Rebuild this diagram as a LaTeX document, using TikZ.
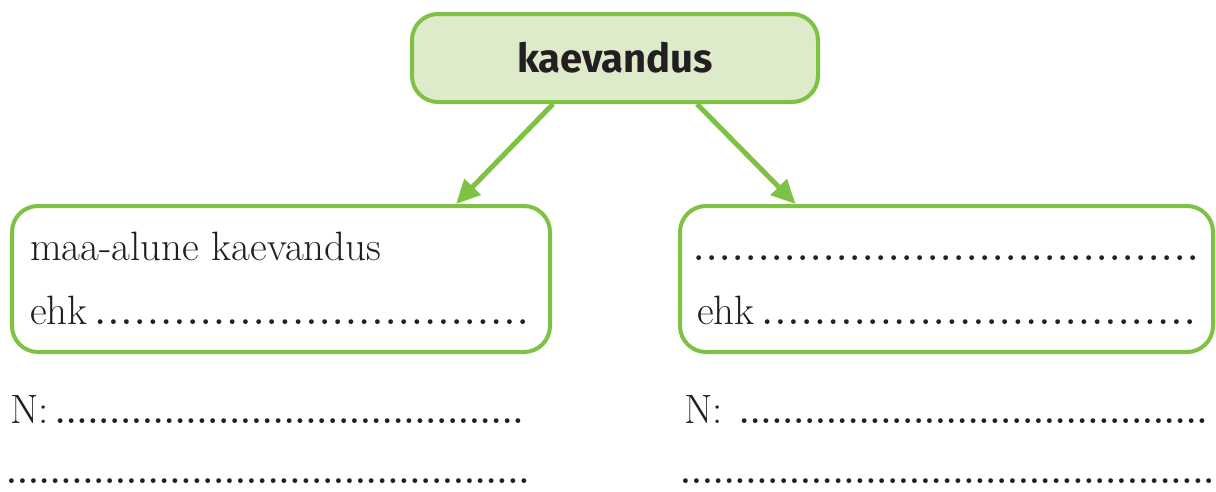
\documentclass[tikz,border=0pt]{standalone}
\usepackage{fontspec}
\usepackage{xcolor}
\newfontfamily\headfont{Fira Sans}
\usetikzlibrary{arrows.meta}
\definecolor{leafgreen}{HTML}{7DC242}
\definecolor{palegreen}{HTML}{DDEBCB}
\definecolor{inkblack}{HTML}{231F20}
\newcommand{\dotrow}[2]{\foreach \k in {1,...,#1}{\hbox to #2{\hss\bfseries\fontsize{33}{40}\selectfont.\hss}}}

\begin{document}
\begin{tikzpicture}[x=1pt,y=-1pt,
  topbox/.style={draw=leafgreen,fill=palegreen,line width=4pt,rounded corners=26pt,minimum width=406pt,minimum height=88pt,text=inkblack,font=\headfont\bfseries\fontsize{40}{48}\selectfont},
  answerbox/.style={draw=leafgreen,line width=4pt,rounded corners=26pt,minimum height=146pt},
  writeline/.style={anchor=base west,inner sep=0pt,text=inkblack,font=\fontsize{41}{49}\selectfont},
  arr/.style={leafgreen,line width=5pt,-{Triangle[length=24pt,width=22pt]}}]
\useasboundingbox (0,0) rectangle (1216,491);
\node [topbox] (top) at (615,58) {kaevandus};
\node [answerbox,minimum width=538pt] (left) at (281,279) {};
\node [answerbox,minimum width=533pt] (right) at (946.5,279) {};
\draw [arr] ([xshift=-62pt]top.south) -- ([xshift=175pt]left.north);
\draw [arr] ([xshift=82pt]top.south) -- ([xshift=-151pt]right.north);
% text in the boxes
\node [writeline] (lefttext) at (30,260) {maa-alune kaevandus};
\node [writeline] (leftehk) at (30,324) {ehk\hspace{6pt}\dotrow{33}{13.2pt}};
\node [writeline] (righttext) at (692,260) {\dotrow{39}{13pt}};
\node [writeline] (rightehk) at (697,324) {ehk\hspace{6pt}\dotrow{33}{13.2pt}};
% lines below
\node [writeline] (leftn) at (10,423) {N:\hspace{6pt}\dotrow{43}{10.9pt}};
\node [writeline] (leftlast) at (6,483) {\dotrow{48}{10.9pt}};
\node [writeline] (rightn) at (684,423) {N:\hspace{16pt}\dotrow{43}{10.9pt}};
\node [writeline] (rightlast) at (680,483) {\dotrow{49}{10.9pt}};
\end{tikzpicture}
\end{document}
